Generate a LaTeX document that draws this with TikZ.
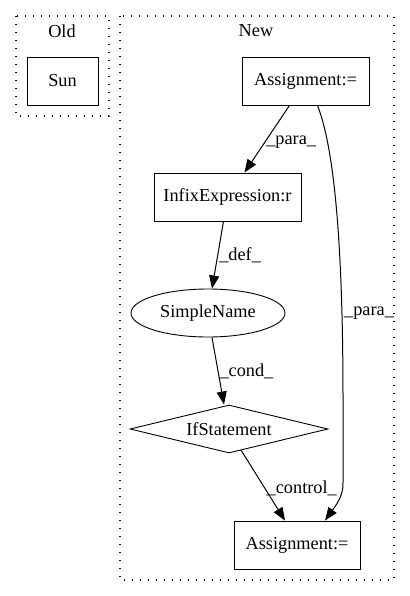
\documentclass[tikz,border=0pt]{standalone}
\usepackage{fontspec}
\setmainfont{Liberation Serif}
\usetikzlibrary{shapes.geometric,arrows.meta}
\begin{document}
\begin{tikzpicture}[x=1pt,y=-1pt,
  every node/.style={font=\fontsize{18.3}{21}\selectfont},
  box/.style={draw,rectangle,inner sep=0pt,line width=0.9pt},
  cluster/.style={draw,line width=1.3pt,dash pattern=on 1.4pt off 6.6pt},
  edge/.style={-{Triangle[length=13pt,width=10pt]},line width=1pt},
  lbl/.style={inner sep=1pt}]
\useasboundingbox (0,0) rectangle (409,596);
\draw[cluster] (16,16) rectangle (109,116);
\draw[cluster] (120,16) rectangle (394,580);
\node (old) at (62,31) {Old};
\node (new) at (256,31) {New};
\node[box,minimum width=71pt,minimum height=48pt] (sun) at (62.5,81) {Sun};
\node[box,minimum width=127pt,minimum height=48pt] (a1) at (305.5,81) {Assignment:=};
\node[box,minimum width=147pt,minimum height=48pt] (infix) at (227.5,197) {InfixExpression:r};
\node[draw,line width=0.9pt,ellipse,minimum width=154pt,minimum height=48pt,inner sep=0pt] (sn) at (208,313) {SimpleName};
\node[draw,line width=0.9pt,diamond,aspect=4.1,minimum width=198pt,minimum height=48pt,inner sep=0pt] (if) at (229,429) {IfStatement};
\node[box,minimum width=126pt,minimum height=48pt] (a2) at (297,545) {Assignment:=};
\draw[edge] ([xshift=-16pt]a1.south) -- ([xshift=17pt]infix.north) node[lbl,pos=0.55,right] {\_para\_};
\draw[edge] ([xshift=-4pt]infix.south) -- ([xshift=4pt]sn.north) node[lbl,midway,right] {\_def\_};
\draw[edge] ([xshift=4pt]sn.south) -- ([xshift=-5pt]if.north) node[lbl,midway,right] {\_cond\_};
\draw[edge] (241,450) -- ([xshift=-12pt]a2.north) node[lbl,pos=0.55,right] {\_control\_};
\draw[edge] ([xshift=12pt]a1.south) .. controls (335,150) and (343,250) .. (343,400) -- (343,482) .. controls (344,496) and (334,508) .. ([xshift=28pt]a2.north);
\node[lbl] (plbl) at (369,313) {\_para\_};
\end{tikzpicture}
\end{document}
